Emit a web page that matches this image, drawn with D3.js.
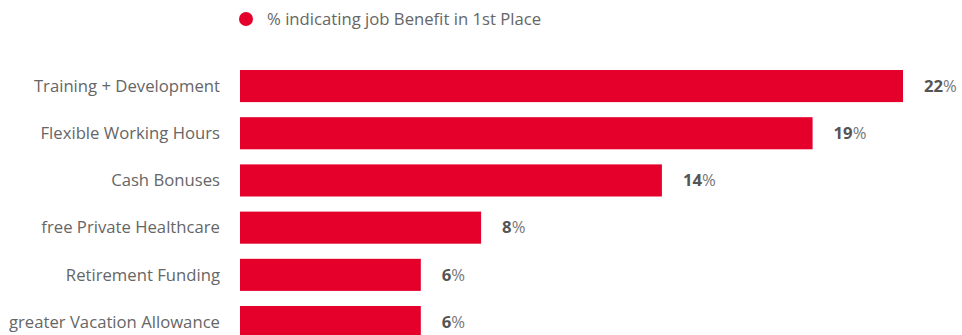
<!DOCTYPE html>
<html>
<head>
<meta charset="utf-8">
<script src="https://cdn.jsdelivr.net/npm/d3@7"></script>
<style>
  html, body { margin: 0; padding: 0; background: #fff; overflow: hidden; }
  svg { display: block; font-family: "Open Sans", Lato, sans-serif; }
</style>
</head>
<body>
<svg id="chart" width="962" height="335"></svg>
<script>
// Job benefits ranked first, share of respondents (%)
const categories = [
  "Training + Development",
  "Flexible Working Hours",
  "Cash Bonuses",
  "free Private Healthcare",
  "Retirement Funding",
  "greater Vacation Allowance"
];
const values = [22, 19, 14, 8, 6, 6];
const seriesName = "% indicating job Benefit in 1st Place";

const red = "#e4002b";
const fontSize = 16.7;
const svg = d3.select("#chart");

const x0 = 240, step = 47.2, inner = 0.32, outer = 0.16, firstTop = 70;
const x = d3.scaleLinear().domain([0, 22]).range([x0, 903]);
const y = d3.scaleBand()
  .domain(categories)
  .range([firstTop - outer * step, firstTop - outer * step + categories.length * step])
  .paddingInner(inner)
  .paddingOuter(outer);

const rows = categories.map((c, i) => ({ c, v: values[i] }));

// bars
svg.append("g").selectAll("rect")
  .data(rows)
  .join("rect")
  .attr("x", x(0))
  .attr("y", d => y(d.c))
  .attr("width", d => x(d.v) - x(0))
  .attr("height", y.bandwidth())
  .attr("fill", red);

// category labels
svg.append("g").selectAll("text")
  .data(rows)
  .join("text")
  .attr("x", x(0) - 20)
  .attr("y", d => y(d.c) + y.bandwidth() / 2)
  .attr("dy", "0.35em")
  .attr("text-anchor", "end")
  .attr("font-size", fontSize)
  .attr("fill", "#666")
  .text(d => d.c);

// value labels
const vl = svg.append("g").selectAll("text")
  .data(rows)
  .join("text")
  .attr("x", d => x(d.v) + 21)
  .attr("y", d => y(d.c) + y.bandwidth() / 2)
  .attr("dy", "0.35em")
  .attr("font-size", fontSize);
vl.append("tspan").attr("font-weight", "bold").attr("fill", "#555").text(d => d.v);
vl.append("tspan").attr("fill", "#777").text("%");

// legend
const lg = svg.append("g");
lg.append("circle").attr("cx", 246).attr("cy", 19).attr("r", 7).attr("fill", red);
lg.append("text").attr("x", 267).attr("y", 19).attr("dy", "0.35em")
  .attr("font-size", fontSize).attr("fill", "#666").text(seriesName);
</script>
</body>
</html>
